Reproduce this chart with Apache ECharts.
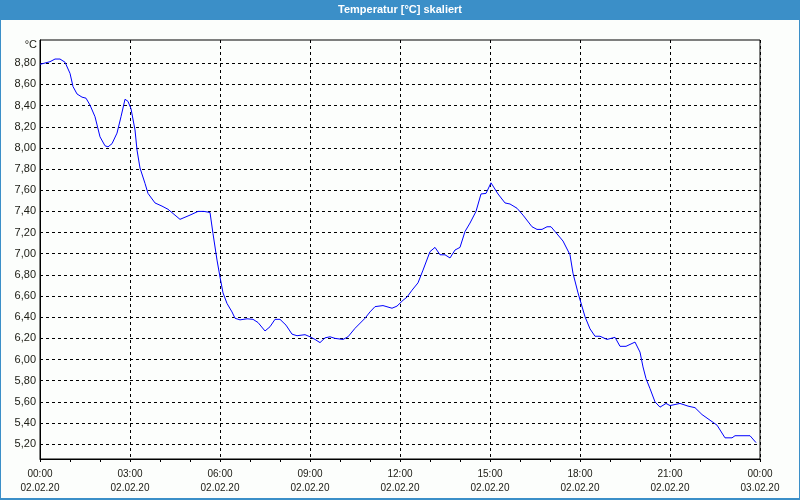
<!DOCTYPE html>
<html><head><meta charset="utf-8">
<script src="https://cdn.jsdelivr.net/npm/echarts@6/dist/echarts.min.js"></script>
<style>html,body{margin:0;padding:0;background:#fcfefc}#c{width:800px;height:500px}</style>
</head><body><div id="c"></div>
<script>
var times = ["00:00","00:20","00:30","00:40","00:50","00:54","01:00","01:06","01:14","01:24","01:32","01:40","01:50","02:00","02:10","02:16","02:24","02:34","02:42","02:50","02:56","03:02","03:10","03:14","03:20","03:30","03:36","03:50","04:04","04:16","04:40","05:00","05:16","05:28","05:40","05:46","05:54","06:00","06:06","06:14","06:24","06:30","06:40","06:54","07:06","07:16","07:30","07:40","07:50","08:00","08:12","08:24","08:34","08:50","09:00","09:10","09:20","09:30","09:40","09:50","10:06","10:16","10:30","10:50","11:00","11:10","11:26","11:44","11:54","12:06","12:14","12:24","12:36","12:46","13:00","13:10","13:20","13:30","13:40","13:50","14:00","14:10","14:20","14:32","14:42","14:52","15:02","15:16","15:30","15:40","15:54","16:06","16:24","16:34","16:44","16:54","17:02","17:10","17:26","17:40","17:46","17:56","18:10","18:20","18:30","18:40","18:54","19:10","19:20","19:32","19:50","20:00","20:06","20:12","20:20","20:30","20:40","20:52","21:00","21:20","21:36","21:50","22:04","22:16","22:34","22:50","23:04","23:10","23:40","23:52"];
var temps = [8.79,8.815,8.84,8.84,8.81,8.80,8.705,8.58,8.51,8.48,8.47,8.405,8.295,8.105,8.02,8.01,8.04,8.14,8.295,8.46,8.44,8.37,8.17,7.98,7.81,7.665,7.57,7.48,7.45,7.42,7.325,7.365,7.40,7.40,7.39,7.19,6.94,6.78,6.63,6.53,6.45,6.39,6.375,6.385,6.38,6.35,6.27,6.31,6.38,6.38,6.325,6.24,6.225,6.235,6.215,6.19,6.16,6.205,6.215,6.20,6.19,6.215,6.295,6.39,6.45,6.50,6.51,6.485,6.505,6.56,6.59,6.655,6.725,6.845,7.02,7.06,6.99,6.99,6.96,7.035,7.06,7.21,7.29,7.40,7.565,7.57,7.67,7.565,7.48,7.47,7.43,7.365,7.255,7.23,7.23,7.255,7.255,7.21,7.12,6.99,6.815,6.63,6.405,6.29,6.22,6.22,6.19,6.21,6.125,6.125,6.165,6.07,5.93,5.82,5.725,5.60,5.55,5.585,5.565,5.585,5.56,5.545,5.48,5.44,5.38,5.26,5.26,5.28,5.28,5.215];
var yTicks = [5.2,5.4,5.6,5.8,6.0,6.2,6.4,6.6,6.8,7.0,7.2,7.4,7.6,7.8,8.0,8.2,8.4,8.6,8.8];
var xTickLabels = ["00:00\n02.02.20","03:00\n02.02.20","06:00\n02.02.20","09:00\n02.02.20","12:00\n02.02.20","15:00\n02.02.20","18:00\n02.02.20","21:00\n02.02.20","00:00\n03.02.20"];

function toMin(t){var p=t.split(':');return (+p[0])*60+(+p[1]);}
var data = times.map(function(t,i){return [toMin(t), temps[i]];});

var chart = echarts.init(document.getElementById('c'));
var dash = [3,3];
chart.setOption({
  backgroundColor:'#fcfefc',
  animation:false,
  graphic:[
    {type:'rect', shape:{x:0,y:0,width:800,height:20}, style:{fill:'#3b8fc8'}, z:10},
    {type:'text', x:400, y:10, style:{text:'Temperatur [°C] skaliert', fill:'#ffffff', font:'bold 11px "Liberation Sans", Arial, sans-serif', textAlign:'center', textVerticalAlign:'middle'}, z:11},
    {type:'rect', shape:{x:0.5,y:0.5,width:799,height:499}, style:{fill:'none', stroke:'#3b8fc8', lineWidth:1}, z:10},
    {type:'rect', shape:{x:0,y:498,width:800,height:2}, style:{fill:'#3b8fc8'}, z:10},
    {type:'text', x:37, y:45, style:{text:'°C', fill:'#202018', font:'11px "Liberation Sans", Arial, sans-serif', textAlign:'right', textVerticalAlign:'middle'}, z:11}
  ],
  grid:{left:40, right:40, top:40, bottom:41, show:true, borderColor:'#000', borderWidth:1, backgroundColor:'transparent'},
  xAxis:{
    type:'value', min:0, max:1440, interval:180,
    axisLine:{lineStyle:{color:'#000', width:1}},
    axisTick:{show:true, length:3, lineStyle:{color:'#000'}},
    minorTick:{show:true, splitNumber:3, length:3, lineStyle:{color:'#000'}},
    splitLine:{show:true, lineStyle:{color:'#000', type:dash, width:1}},
    axisLabel:{margin:8, color:'#202018', fontSize:10, lineHeight:14, fontFamily:'"Liberation Sans", Arial, sans-serif',
      formatter:function(v){return xTickLabels[Math.round(v/180)];}}
  },
  yAxis:{
    type:'value', min:5.06, max:9.02,
    axisLine:{show:true, lineStyle:{color:'#000'}},
    axisTick:{show:false, customValues:yTicks},
    axisLabel:{customValues:yTicks, margin:4, color:'#202018', fontSize:11, fontFamily:'"Liberation Sans", Arial, sans-serif',
      formatter:function(v){return v.toFixed(2).replace('.', ',');}},
    splitLine:{show:true, lineStyle:{color:'#000', type:dash, width:1}}
  },
  series:[{type:'line', data:data, showSymbol:false, symbol:'none', lineStyle:{color:'#0000ff', width:1}}]
});
</script></body></html>
